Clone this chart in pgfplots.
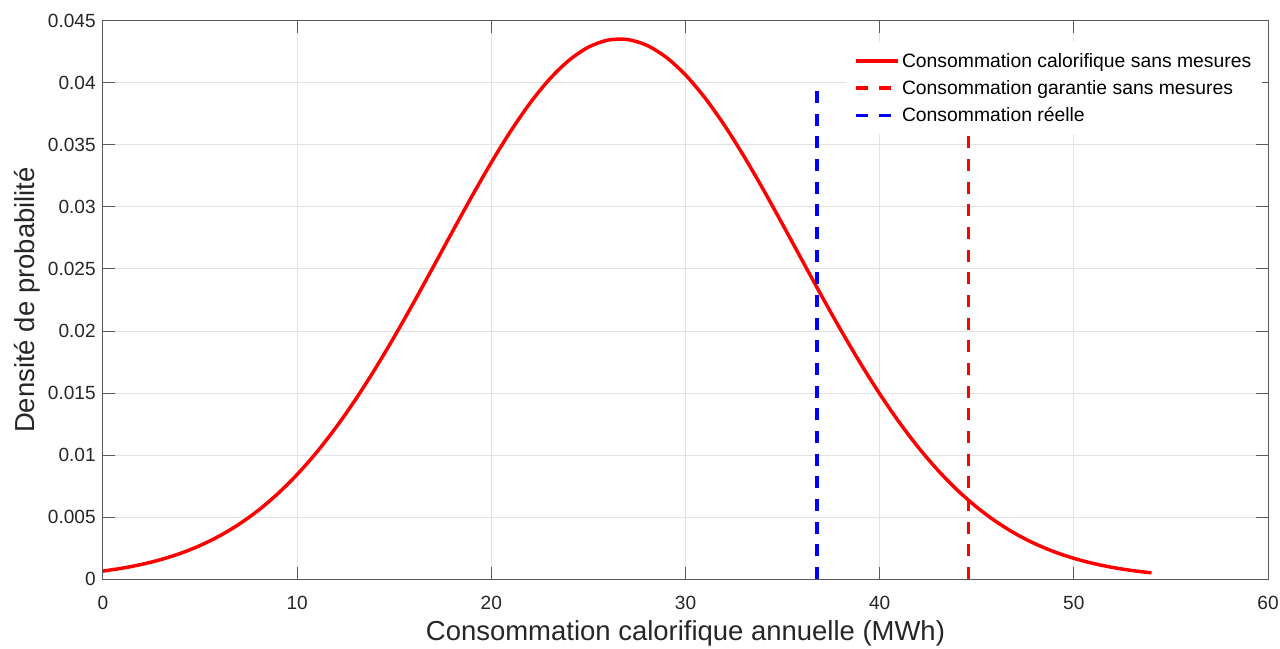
\documentclass[border=0pt]{standalone}
\usepackage{fontspec}
\setmainfont{Liberation Sans}
\usepackage{pgfplots}
\pgfplotsset{compat=1.18}
\definecolor{axcol}{RGB}{90,90,90}
\definecolor{txtcol}{RGB}{38,38,38}
\definecolor{gridcol}{RGB}{226,226,226}
\begin{document}
\begin{tikzpicture}
\begin{axis}[
  name=ax,
  scale only axis,
  width=873.75bp, height=418.5bp,
  xmin=0, xmax=60, ymin=0, ymax=0.045,
  xtick={0,10,20,30,40,50,60},
  xticklabels={0,10,20,30,40,50,60},
  ytick={0,0.005,0.01,0.015,0.02,0.025,0.03,0.035,0.04,0.045},
  yticklabels={0,0.005,0.01,0.015,0.02,0.025,0.03,0.035,0.04,0.045},
  scaled y ticks=false,
  /pgf/number format/assume math mode=true,
  tick align=inside,
  tick pos=both,
  major tick length=9bp,
  every tick/.style={axcol, line width=0.75bp},
  axis line style={axcol, line width=0.75bp},
  grid=major,
  major grid style={gridcol, line width=0.75bp},
  tick label style={font=\fontsize{14.3bp}{17bp}\selectfont, text=txtcol},
  xticklabel style={yshift=-9bp},
  yticklabel style={xshift=-2bp},
  xlabel={Consommation calorifique annuelle (MWh)},
  ylabel={Densité de probabilité},
  label style={font=\fontsize{20.6bp}{24bp}\selectfont, text=txtcol},
  xlabel style={at={(axis description cs:0.5,-0.111)}, anchor=base},
  ylabel style={at={(axis description cs:-0.0592,0.5)}, anchor=base},
  legend cell align=left,
  legend style={at={(0.995,0.962)}, anchor=north east, draw=none, fill=white,
    font=\fontsize{14.5bp}{17bp}\selectfont, text=black,
    inner xsep=6bp, inner ysep=6bp, row sep=4.3bp,
    /tikz/every even column/.append style={column sep=0bp}},
  legend image code/.code={\draw[#1] (0bp,0bp) -- (31bp,0bp);},
]
\addplot[red, line width=2.6bp, smooth, tension=0.5] coordinates {
(0,0.000642) (1,0.000876) (2,0.001182) (3,0.001576) (4,0.002075) (5,0.002700)
(6,0.003472) (7,0.004412) (8,0.005540) (9,0.006876) (10,0.008431) (11,0.010213)
(12,0.012227) (13,0.014464) (14,0.016908) (15,0.019531) (16,0.022294) (17,0.025147)
(18,0.028027) (19,0.030867) (20,0.033592) (21,0.036126) (22,0.038390) (23,0.040313)
(24,0.041830) (25,0.042891) (26,0.043457) (27,0.043509) (28,0.043044)
(29,0.042080) (30,0.040651) (31,0.038804) (32,0.036602) (33,0.034116) (34,0.031422)
(35,0.028598) (36,0.025720) (37,0.022858) (38,0.020074) (39,0.017419) (40,0.014937)
(41,0.012656) (42,0.010596) (43,0.008767) (44,0.007168) (45,0.005790) (46,0.004622)
(47,0.003646) (48,0.002843) (49,0.002190) (50,0.001667) (51,0.001254) (52,0.000932)
(53,0.000684) (54,0.000497)
};
\addlegendentry{Consommation calorifique sans mesures}
\addplot[red, line width=2.6bp, dash pattern=on 9bp off 8bp] coordinates {(44.57,0) (44.57,0.04)};
\addlegendentry{Consommation garantie sans mesures}
\addplot[blue, line width=2.6bp, dash pattern=on 9bp off 8bp] coordinates {(36.76,0) (36.76,0.04)};
\addlegendentry{Consommation réelle}
\end{axis}
\pgfresetboundingbox
\path ([xshift=-77.25bp,yshift=-51.75bp]ax.south west) rectangle ([xshift=9bp,yshift=15.75bp]ax.north east);
\end{tikzpicture}
\end{document}
